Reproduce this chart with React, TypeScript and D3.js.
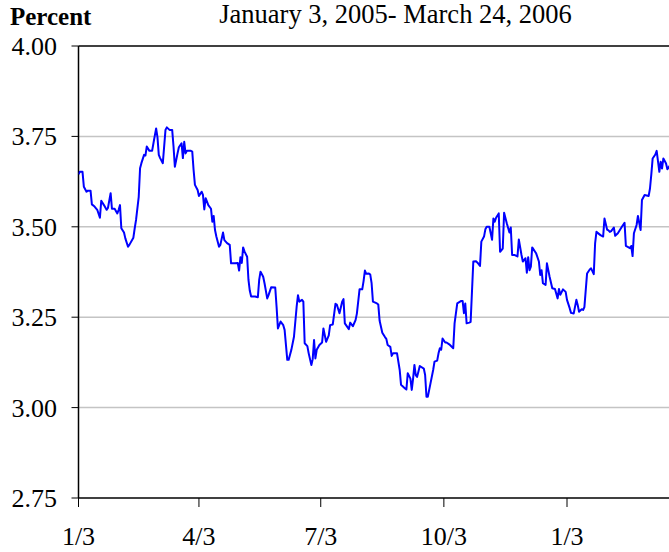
import React from "react";
import * as d3 from "d3";

const TITLE = "January 3, 2005- March 24, 2006";
const Y_LABEL = "Percent";
const START = new Date(2005, 0, 3);
// days since January 3, 2005
const DAY_OFFSETS = [
  0, 1, 3, 4, 6, 7, 9, 10, 12, 14, 16, 17, 19, 21, 22, 24, 25, 27, 29, 30, 31, 32, 34, 35, 37, 38, 41, 42, 43, 45,
  46, 47, 49, 50, 51, 53, 55, 56, 58, 59, 60, 61, 63, 65, 66, 68, 70, 71, 72, 74, 75, 77, 78, 79, 80, 81, 84, 85,
  86, 87, 89, 90, 92, 93, 94, 95, 97, 99, 100, 101, 102, 103, 105, 106, 108, 109, 111, 113, 114, 117, 119, 120,
  121, 122, 123, 124, 126, 127, 128, 129, 132, 134, 135, 136, 138, 139, 141, 142, 144, 147, 148, 149, 151, 153,
  154, 156, 157, 159, 161, 163, 164, 165, 167, 168, 169, 171, 172, 174, 175, 176, 177, 178, 180, 182, 183, 185,
  187, 188, 190, 192, 193, 195, 197, 198, 199, 202, 203, 205, 207, 208, 210, 212, 213, 214, 215, 217, 218, 219,
  220, 223, 224, 225, 227, 229, 230, 231, 233, 234, 235, 238, 240, 241, 244, 245, 246, 248, 249, 250, 251, 252,
  253, 254, 255, 258, 259, 260, 261, 263, 265, 266, 268, 269, 270, 271, 272, 274, 275, 277, 280, 281, 283, 286,
  287, 288, 289, 290, 292, 293, 295, 297, 299, 300, 301, 303, 304, 305, 307, 309, 310, 311, 312, 314, 315, 317,
  318, 320, 322, 323, 324, 326, 328, 329, 331, 332, 334, 335, 336, 337, 338, 339, 342, 344, 345, 346, 347, 349,
  350, 352, 354, 356, 358, 359, 360, 362, 364, 365, 367, 368, 370, 372, 373, 374, 376, 377, 378, 380, 382, 383,
  385, 386, 387, 390, 392, 393, 395, 396, 397, 398, 400, 401, 403, 406, 408, 409, 411, 412, 413, 414, 415, 417,
  418, 420, 421, 423, 426, 427, 428, 429, 431, 432, 434, 435, 436, 437, 439, 440, 442, 445,
];
const RATES = [
  3.645, 3.652, 3.652, 3.611, 3.597, 3.6, 3.6, 3.562, 3.556, 3.547, 3.525, 3.572, 3.56, 3.547, 3.552, 3.593, 3.55,
  3.55, 3.537, 3.547, 3.56, 3.496, 3.484, 3.468, 3.445, 3.45, 3.47, 3.496, 3.519, 3.583,
  3.662, 3.676, 3.699, 3.697, 3.722, 3.71, 3.71, 3.731, 3.772, 3.748, 3.699, 3.69, 3.676, 3.768, 3.775, 3.768,
  3.768, 3.722, 3.666, 3.703, 3.72, 3.731, 3.69, 3.735, 3.703, 3.71, 3.71, 3.708,
  3.657, 3.616, 3.602, 3.585, 3.597, 3.588, 3.548, 3.579, 3.56, 3.55, 3.514, 3.53, 3.491, 3.473, 3.445, 3.45,
  3.484, 3.463, 3.455, 3.45, 3.399, 3.399, 3.4, 3.379,
  3.416, 3.4, 3.443, 3.432, 3.417, 3.353, 3.323, 3.307, 3.307, 3.305, 3.353, 3.376, 3.362, 3.344, 3.302, 3.311,
  3.333, 3.332, 3.279, 3.219, 3.238, 3.228,
  3.215, 3.132, 3.132, 3.159, 3.196, 3.279, 3.311, 3.293, 3.298, 3.293, 3.178, 3.17, 3.15, 3.118, 3.134, 3.187,
  3.136, 3.16, 3.173, 3.18, 3.219, 3.182,
  3.2, 3.228, 3.23, 3.287, 3.285, 3.261, 3.293, 3.3, 3.233, 3.217, 3.235, 3.225, 3.242, 3.26, 3.327, 3.327, 3.35,
  3.379, 3.37, 3.371, 3.368, 3.344,
  3.293, 3.288, 3.285, 3.24, 3.207, 3.195, 3.19, 3.173, 3.168, 3.143, 3.15, 3.15, 3.104, 3.063, 3.053, 3.05,
  3.095, 3.08, 3.049, 3.08, 3.118, 3.09,
  3.085, 3.1, 3.115, 3.108, 3.09, 3.03, 3.03, 3.067, 3.104, 3.127, 3.13, 3.15, 3.164, 3.16, 3.191, 3.18, 3.18,
  3.175, 3.164, 3.233, 3.288, 3.295,
  3.295, 3.261, 3.288, 3.233, 3.235, 3.237, 3.404, 3.405, 3.397, 3.392, 3.459, 3.473, 3.493, 3.5, 3.5, 3.464,
  3.523, 3.514, 3.525, 3.537, 3.431, 3.44,
  3.539, 3.51, 3.484, 3.498, 3.422, 3.422, 3.418, 3.465, 3.422, 3.404, 3.413, 3.373, 3.416, 3.38, 3.39, 3.443,
  3.426, 3.404, 3.367, 3.38, 3.344, 3.339,
  3.399, 3.362, 3.33, 3.328, 3.302, 3.328, 3.312, 3.327, 3.32, 3.298, 3.275, 3.262, 3.26, 3.298, 3.284, 3.265,
  3.272, 3.27, 3.278, 3.371, 3.382, 3.385,
  3.369, 3.454, 3.486, 3.477, 3.473, 3.523, 3.492, 3.49, 3.486, 3.488, 3.498, 3.475, 3.482, 3.5, 3.511, 3.447,
  3.443, 3.441, 3.447, 3.419, 3.482, 3.505,
  3.53, 3.491, 3.574, 3.588, 3.585, 3.606, 3.645, 3.689, 3.7, 3.71, 3.652, 3.68, 3.661, 3.689, 3.675, 3.659,
  3.67, 3.655,
];
const Y_TICKS = [2.75, 3.0, 3.25, 3.5, 3.75, 4.0];
const X_TICKS = [
  new Date(2005, 0, 3),
  new Date(2005, 3, 3),
  new Date(2005, 6, 3),
  new Date(2005, 9, 3),
  new Date(2006, 0, 3),
];

const W = 669;
const H = 552;
const LEFT = 78.5;
const TOP = 46;
const BOTTOM = 498;

export default function App() {
  const x = d3
    .scaleTime()
    .domain([new Date(2005, 0, 3), new Date(2006, 0, 3)])
    .range([LEFT, 567]);
  const y = d3.scaleLinear().domain([2.75, 4.0]).range([BOTTOM, TOP]);

  const data = DAY_OFFSETS.map((d, i) => ({ date: d3.timeDay.offset(START, d), v: RATES[i] }));
  const line = d3
    .line<{ date: Date; v: number }>()
    .x((d) => x(d.date))
    .y((d) => y(d.v));

  const fmtY = d3.format(".2f");
  const fmtX = d3.timeFormat("%-m/%-d");
  const font = "'Liberation Serif', 'Times New Roman', serif";

  return (
    <svg
      width={W}
      height={H}
      style={{ position: "absolute", left: 0, top: 0, background: "#fff" }}
      fontFamily={font}
    >
      <defs>
        <clipPath id="plot">
          <rect x={LEFT} y={TOP - 10} width={W - LEFT} height={BOTTOM - TOP + 20} />
        </clipPath>
      </defs>
      <text x={10} y={25} fontSize={25} fontWeight="bold" fill="#000">
        {Y_LABEL}
      </text>
      <text x={395.5} y={23} fontSize={26.5} textAnchor="middle" fill="#000">
        {TITLE}
      </text>
      {Y_TICKS.map((t) => {
        const edge = t === 4.0 || t === 2.75;
        return (
          <g key={t}>
            <line
              x1={LEFT}
              x2={W}
              y1={y(t)}
              y2={y(t)}
              stroke={edge ? "#000" : "#c4c4c4"}
              strokeWidth={1.5}
            />
            <line x1={71.5} x2={LEFT} y1={y(t)} y2={y(t)} stroke="#000" strokeWidth={1} />
            <text x={57} y={y(t) + 9} fontSize={26} textAnchor="end" fill="#000">
              {fmtY(t)}
            </text>
          </g>
        );
      })}
      <line x1={LEFT} x2={LEFT} y1={TOP} y2={BOTTOM} stroke="#000" strokeWidth={1.5} />
      {X_TICKS.map((t, i) => (
        <g key={i}>
          <line x1={x(t)} x2={x(t)} y1={BOTTOM} y2={BOTTOM + 9} stroke="#000" strokeWidth={1} />
          <text x={x(t)} y={545} fontSize={26} textAnchor="middle" fill="#000">
            {fmtX(t)}
          </text>
        </g>
      ))}
      <path
        d={line(data) || ""}
        fill="none"
        stroke="#0000ff"
        strokeWidth={2}
        strokeLinejoin="round"
        clipPath="url(#plot)"
      />
    </svg>
  );
}
